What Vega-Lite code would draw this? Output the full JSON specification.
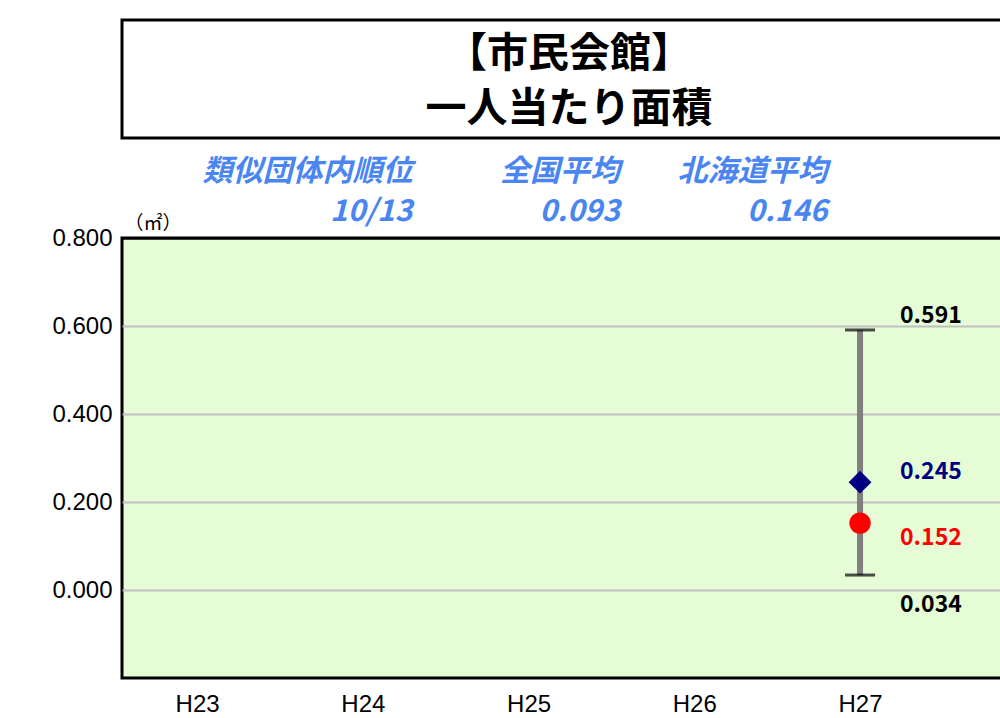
{
  "$schema": "https://vega.github.io/schema/vega-lite/v6.json",
  "autosize": {"type": "pad"},
  "padding": {"left": 50, "top": 18, "right": 0, "bottom": 0},
  "background": "white",
  "spacing": 0,
  "bounds": "flush",
  "config": {"view": {"stroke": null}},
  "vconcat": [
    {
      "width": 894,
      "height": 118,
      "view": {"stroke": "black", "strokeWidth": 3, "fill": "white"},
      "data": {"values": [{"line": "【市民会館】"}, {"line": "一人当たり面積"}]},
      "mark": {"type": "text", "font": "Noto Sans CJK JP", "fontWeight": "bold", "fontSize": 41, "baseline": "middle", "color": "black"},
      "encoding": {
        "y": {"field": "line", "type": "nominal", "sort": null, "scale": {"type": "point", "padding": 0.573, "align": 0.55}, "axis": null},
        "text": {"field": "line"}
      }
    },
    {
      "width": 830,
      "height": 100,
      "view": {"stroke": null},
      "data": {"values": [
        {"item": "類似団体内順位", "value": "10/13"},
        {"item": "全国平均", "value": "0.093"},
        {"item": "北海道平均", "value": "0.146"}
      ]},
      "transform": [{"fold": ["item", "value"], "as": ["row", "text"]}],
      "mark": {"type": "text", "align": "right", "baseline": "middle", "font": "Noto Sans CJK JP", "fontStyle": "italic", "fontWeight": "bold", "fontSize": 30, "color": "#4a86f2"},
      "encoding": {
        "x": {"field": "item", "type": "nominal", "sort": null, "scale": {"type": "point", "padding": 1, "align": 0.7}, "axis": null},
        "y": {"field": "row", "type": "nominal", "sort": ["item", "value"], "scale": {"type": "point", "padding": 0.75, "align": 0.567}, "axis": null},
        "text": {"field": "text"}
      }
    },
    {
      "width": 894,
      "height": 440,
      "view": {"stroke": "black", "strokeWidth": 3, "fill": "#e5fcd6"},
      "data": {"values": [
        {"year": "H23"},
        {"year": "H24"},
        {"year": "H25"},
        {"year": "H26"},
        {"year": "H27", "max": 0.591, "min": 0.034, "group_avg": 0.245, "city": 0.152}
      ]},
      "encoding": {
        "x": {
          "field": "year", "type": "ordinal", "sort": null,
          "scale": {"type": "point", "domain": ["H23", "H24", "H25", "H26", "H27"], "padding": 0.697, "align": 0.325},
          "axis": {"title": null, "domain": false, "ticks": false, "labelAngle": 0, "labelFontSize": 24, "labelFont": "Liberation Sans", "labelColor": "black", "labelPadding": 14}
        }
      },
      "layer": [
        {
          "mark": {"type": "rule", "color": "#808080", "strokeWidth": 6},
          "encoding": {
            "y": {
              "field": "min", "type": "quantitative",
              "scale": {"domain": [-0.2, 0.8], "nice": false, "zero": false},
              "axis": {
                "values": [0, 0.2, 0.4, 0.6, 0.8], "format": ".3f",
                "grid": true, "gridWidth": 2,
                "gridColor": {"condition": {"test": "datum.value >= 0.8", "value": "black"}, "value": "#c0c0c0"},
                "domain": false, "ticks": false,
                "labelFontSize": 24, "labelFont": "Liberation Sans", "labelColor": "black", "labelPadding": 10,
                "title": "（㎡）", "titleAngle": 0, "titleAlign": "left", "titleBaseline": "bottom",
                "titleX": 2, "titleY": -5, "titleFontSize": 19, "titleFontWeight": "normal", "titleFont": "Noto Sans CJK JP", "titleColor": "black"
              }
            },
            "y2": {"field": "max"}
          }
        },
        {
          "mark": {"type": "tick", "color": "black", "thickness": 3, "size": 30, "orient": "horizontal"},
          "encoding": {"y": {"field": "max", "type": "quantitative"}}
        },
        {
          "mark": {"type": "tick", "color": "black", "thickness": 3, "size": 30, "orient": "horizontal"},
          "encoding": {"y": {"field": "min", "type": "quantitative"}}
        },
        {
          "mark": {"type": "point", "shape": "diamond", "filled": true, "size": 520, "color": "#000080", "opacity": 1},
          "encoding": {"y": {"field": "group_avg", "type": "quantitative"}}
        },
        {
          "mark": {"type": "point", "shape": "circle", "filled": true, "size": 460, "color": "#ff0000", "opacity": 1},
          "encoding": {"y": {"field": "city", "type": "quantitative"}}
        },
        {
          "mark": {"type": "text", "align": "left", "baseline": "middle", "dx": 40, "dy": -14, "font": "Noto Sans CJK JP", "fontWeight": "bold", "fontSize": 23, "color": "black"},
          "encoding": {"y": {"field": "max", "type": "quantitative"}, "text": {"field": "max", "format": ".3f"}}
        },
        {
          "mark": {"type": "text", "align": "left", "baseline": "middle", "dx": 40, "dy": 30, "font": "Noto Sans CJK JP", "fontWeight": "bold", "fontSize": 23, "color": "black"},
          "encoding": {"y": {"field": "min", "type": "quantitative"}, "text": {"field": "min", "format": ".3f"}}
        },
        {
          "mark": {"type": "text", "align": "left", "baseline": "middle", "dx": 40, "dy": -10, "font": "Noto Sans CJK JP", "fontWeight": "bold", "fontSize": 23, "color": "#000080"},
          "encoding": {"y": {"field": "group_avg", "type": "quantitative"}, "text": {"field": "group_avg", "format": ".3f"}}
        },
        {
          "mark": {"type": "text", "align": "left", "baseline": "middle", "dx": 40, "dy": 15, "font": "Noto Sans CJK JP", "fontWeight": "bold", "fontSize": 23, "color": "#ff0000"},
          "encoding": {"y": {"field": "city", "type": "quantitative"}, "text": {"field": "city", "format": ".3f"}}
        }
      ]
    }
  ]
}
